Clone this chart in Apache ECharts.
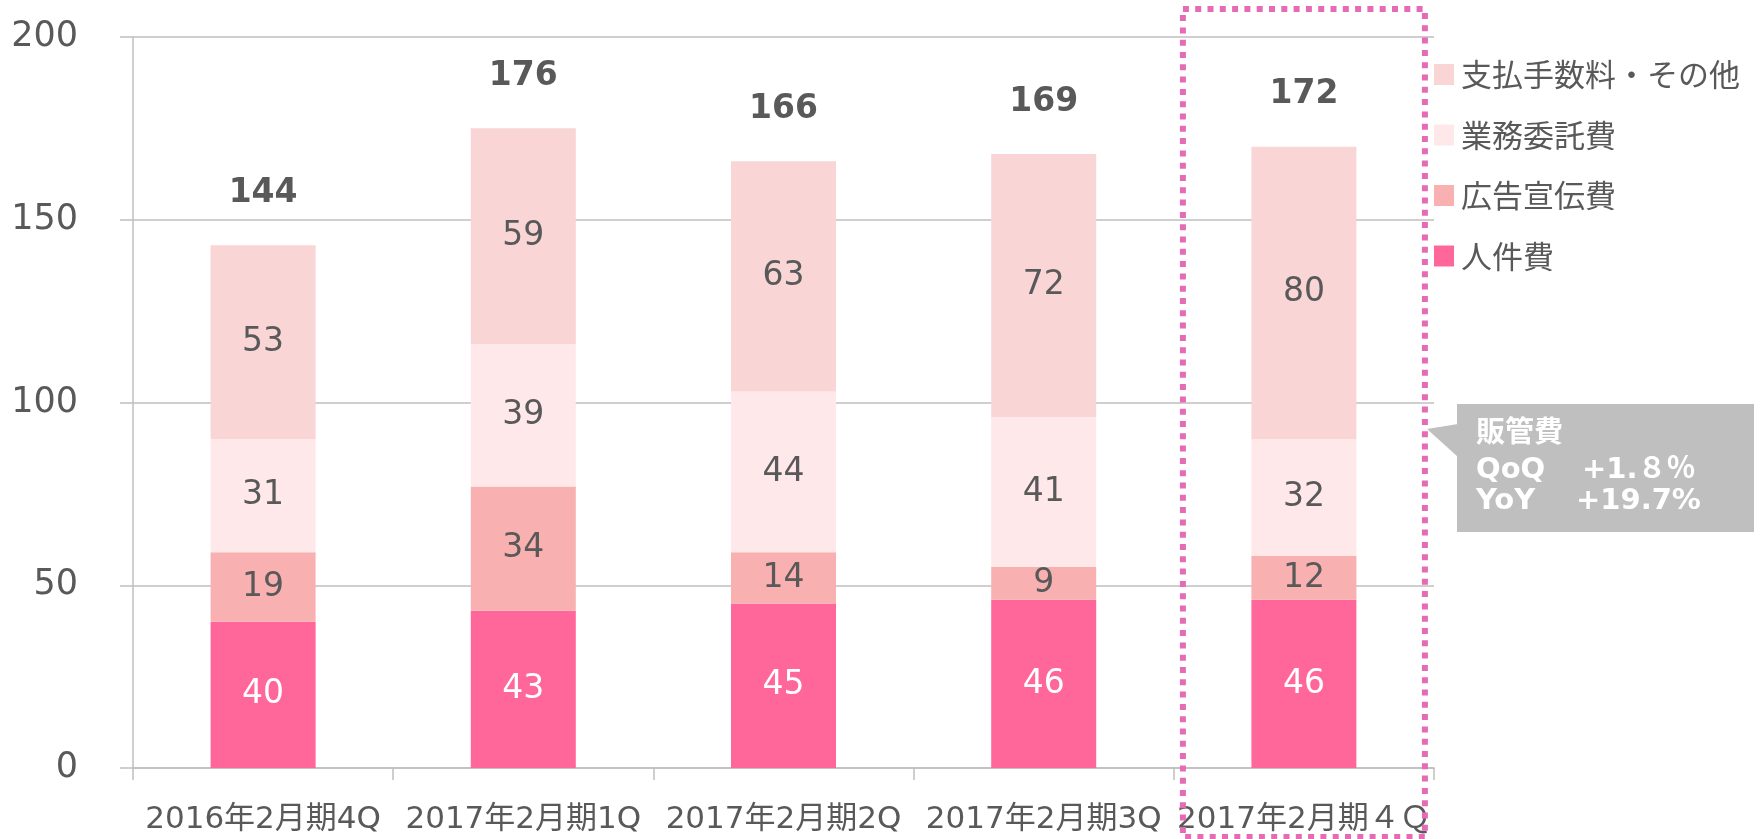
<!DOCTYPE html>
<html>
<head>
<meta charset="utf-8">
<script src="https://cdn.jsdelivr.net/npm/echarts@6/dist/echarts.min.js"></script>
<style>
  html, body { margin: 0; padding: 0; background: #fff; }
  #chart { width: 1763px; height: 839px; }
</style>
</head>
<body>
<div id="chart"></div>
<script>
// 販管費の内訳（単位：百万円）
const categories = ['2016年2月期4Q', '2017年2月期1Q', '2017年2月期2Q', '2017年2月期3Q', '2017年2月期４Ｑ']
const personnel = [40, 43, 45, 46, 46]      // 人件費
const advertising = [19, 34, 14, 9, 12]     // 広告宣伝費
const outsourcing = [31, 39, 44, 41, 32]    // 業務委託費
const feesOther = [53, 59, 63, 72, 80]      // 支払手数料・その他
const totals = [144, 176, 166, 169, 172]
const yTicks = [0, 50, 100, 150, 200]

const FONT = "'DejaVu Sans', 'Noto Sans CJK JP', sans-serif"
const TEXT = '#595959'
const AXIS = '#BFBFBF'

const chart = echarts.init(document.getElementById('chart'))

const segment = (name, data, color, labelColor) => ({
  name,
  type: 'bar',
  stack: 'sga',
  barWidth: 105,
  data,
  itemStyle: { color },
  label: {
    show: true,
    position: 'inside',
    color: labelColor,
    fontFamily: FONT,
    fontSize: 33
  }
})

chart.setOption({
  backgroundColor: '#fff',
  animation: false,
  textStyle: { fontFamily: FONT },
  grid: { left: 133, right: 329, top: 37, bottom: 71 },
  legend: {
    orient: 'vertical',
    left: 1429,
    top: 54,
    icon: 'rect',
    itemWidth: 20,
    itemHeight: 21,
    itemGap: 29.5,
    data: ['支払手数料・その他', '業務委託費', '広告宣伝費', '人件費'],
    textStyle: { color: TEXT, fontSize: 31, fontFamily: "'Noto Sans CJK JP', sans-serif", padding: [0, 0, 0, 2] }
  },
  xAxis: {
    type: 'category',
    data: categories,
    axisLine: { lineStyle: { color: AXIS, width: 1.5 } },
    axisTick: { show: true, interval: 0, length: 12, lineStyle: { color: AXIS, width: 1.5 } },
    axisLabel: { interval: 0, color: TEXT, fontSize: 31, margin: 36, fontFamily: FONT }
  },
  yAxis: {
    type: 'value',
    min: yTicks[0],
    max: yTicks[yTicks.length - 1],
    interval: 50,
    axisLine: { show: true, lineStyle: { color: AXIS, width: 1.5 } },
    axisTick: { show: true, length: 13, lineStyle: { color: AXIS, width: 1.5 } },
    splitLine: { lineStyle: { color: AXIS, width: 1.5 } },
    axisLabel: { color: TEXT, fontSize: 35, margin: 55, fontFamily: FONT }
  },
  series: [
    segment('人件費', personnel, '#FF6699', '#ffffff'),
    segment('広告宣伝費', advertising, '#F8B0B0', TEXT),
    segment('業務委託費', outsourcing, '#FFE8EA', TEXT),
    segment('支払手数料・その他', feesOther, '#F9D5D5', TEXT),
    {
      // 合計ラベル用（高さ0の棒）
      name: 'total',
      type: 'bar',
      stack: 'sga',
      barWidth: 105,
      data: totals.map(() => 0),
      itemStyle: { color: 'transparent' },
      label: {
        show: true,
        position: 'top',
        distance: 32,
        lineHeight: 40,
        color: TEXT,
        fontSize: 33,
        fontWeight: 'bold',
        fontFamily: FONT,
        formatter: p => totals[p.dataIndex]
      }
    }
  ]
})

// 最新四半期の強調枠と吹き出し
const lastX = chart.convertToPixel({ xAxisIndex: 0 }, categories[categories.length - 1])
const calloutFont = { fill: '#fff', fontSize: 29, fontWeight: 'bold', fontFamily: FONT, verticalAlign: 'middle' }

chart.setOption({
  graphic: [
    {
      type: 'rect',
      z: 100,
      shape: { x: lastX - 121, y: 9, width: 242, height: 828 },
      style: { fill: 'none', stroke: '#E56BB5', lineWidth: 6, lineDash: [6, 6.3] }
    },
    {
      type: 'polygon',
      shape: { points: [[1427, 429], [1458, 424], [1458, 457]] },
      style: { fill: '#BFBFBF' }
    },
    {
      type: 'rect',
      shape: { x: 1457, y: 404, width: 297, height: 128 },
      style: { fill: '#BFBFBF' }
    },
    { type: 'text', x: 1476, y: 431, style: Object.assign({ text: '販管費', fontFamily: "'Noto Sans CJK JP', sans-serif", fontSize: 29 }, { fill: '#fff', fontWeight: 'bold', verticalAlign: 'middle' }) },
    { type: 'text', x: 1476, y: 470, style: Object.assign({ text: 'QoQ' }, calloutFont) },
    { type: 'text', x: 1582, y: 470, style: Object.assign({ text: '+1.８％' }, calloutFont) },
    { type: 'text', x: 1476, y: 501, style: Object.assign({ text: 'YoY' }, calloutFont) },
    { type: 'text', x: 1576, y: 501, style: Object.assign({ text: '+19.7%' }, calloutFont) }
  ]
})
</script>
</body>
</html>
